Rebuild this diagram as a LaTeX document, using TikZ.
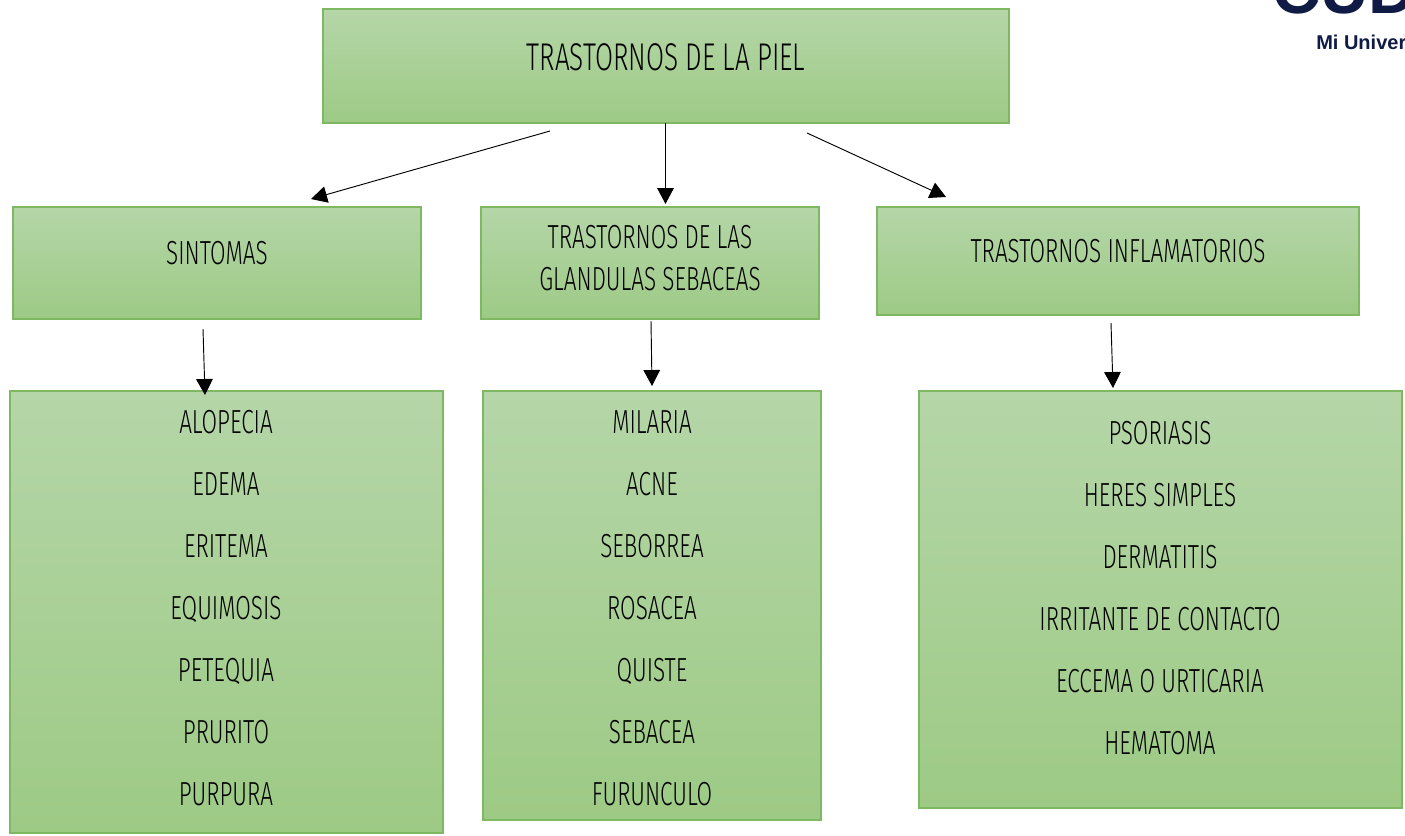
\documentclass[tikz,border=0pt]{standalone}
\usepackage{fontspec}
\usetikzlibrary{arrows.meta}
\newfontfamily\agency[FakeStretch=0.675]{Fira Sans Light}
\newfontfamily\logofont{Liberation Sans}
\definecolor{gtop}{HTML}{B5D6A8}
\definecolor{gbot}{HTML}{9DCA85}
\definecolor{gline}{HTML}{7FB863}
\definecolor{navy}{HTML}{0F1B45}
\tikzset{
 x=0.75pt,y=-0.75pt,
 gbox/.style={draw=gline,line width=1.3pt,top color=gtop,bottom color=gbot,shading angle=0},
 lbl/.style={font=\agency\fontsize{25}{31}\selectfont,text=black,align=center,inner sep=0pt},
 item/.style={lbl,text height=18pt,text depth=0pt,yshift=0.75pt},
 biglbl/.style={font=\agency\fontsize{29}{34}\selectfont,text=black,align=center,inner sep=0pt},
 arr/.style={draw=black,line width=0.7pt,-{Triangle[length=12pt,width=12.5pt]}},
}
\begin{document}
\begin{tikzpicture}
\useasboundingbox (0,0) rectangle (1405,835);
\clip (0,0) rectangle (1405,835);
% logo
\node[anchor=base west,inner sep=0pt,text=navy,font=\logofont\bfseries\fontsize{50}{50}\selectfont] (logo) at (1272,13) {CUD};
\node[anchor=base west,inner sep=0pt,text=navy,font=\logofont\bfseries\fontsize{15}{15}\selectfont] (logotext) at (1316,49) {Mi Univer};
% boxes
\path[gbox] (323,9) rectangle (1009,123);
\node[biglbl] (top) at (666,57) {TRASTORNOS DE LA PIEL};
\coordinate (topS) at (665.5,123);
\path[gbox] (13,207) rectangle (421,319);
\node[item] (sin) at (217,253) {SINTOMAS};
\path[gbox] (481,207) rectangle (819,319);
\node[lbl] (gla) at (650,258) {TRASTORNOS DE LAS\\GLANDULAS SEBACEAS};
\path[gbox] (877,207) rectangle (1359,315);
\node[item] (inf) at (1118,251) {TRASTORNOS INFLAMATORIOS};
\path[gbox] (10,391) rectangle (443,833);
\path[gbox] (483,391) rectangle (821,820);
\path[gbox] (919,391) rectangle (1402,808);
% list 1
\node[item] (a1) at (226,422) {ALOPECIA};
\node[item] (a2) at (226,484) {EDEMA};
\node[item] (a3) at (226,546) {ERITEMA};
\node[item] (a4) at (226,608) {EQUIMOSIS};
\node[item] (a5) at (226,670) {PETEQUIA};
\node[item] (a6) at (226,732) {PRURITO};
\node[item] (a7) at (226,794) {PURPURA};
% list 2
\node[item] (b1) at (652,422) {MILARIA};
\node[item] (b2) at (652,484) {ACNE};
\node[item] (b3) at (652,546) {SEBORREA};
\node[item] (b4) at (652,608) {ROSACEA};
\node[item] (b5) at (652,670) {QUISTE};
\node[item] (b6) at (652,732) {SEBACEA};
\node[item] (b7) at (652,794) {FURUNCULO};
% list 3
\node[item] (c1) at (1160,433) {PSORIASIS};
\node[item] (c2) at (1160,495) {HERES SIMPLES};
\node[item] (c3) at (1160,557) {DERMATITIS};
\node[item] (c4) at (1160,619) {IRRITANTE DE CONTACTO};
\node[item] (c5) at (1160,681) {ECCEMA O URTICARIA};
\node[item] (c6) at (1160,743) {HEMATOMA};
% connector ends
\coordinate (s1) at (550,131); \coordinate (e1) at (311,199);
\coordinate (e2) at (665.5,204);
\coordinate (s3) at (807,133); \coordinate (e3) at (946,197);
\coordinate (s4) at (203,329); \coordinate (e4) at (205,395);
\coordinate (s5) at (651,321); \coordinate (e5) at (652,386);
\coordinate (s6) at (1111,323); \coordinate (e6) at (1113,388);
\draw[arr] (s1) -- (e1);
\draw[arr] (topS) -- (e2);
\draw[arr] (s3) -- (e3);
\draw[arr] (s4) -- (e4);
\draw[arr] (s5) -- (e5);
\draw[arr] (s6) -- (e6);
\end{tikzpicture}
\end{document}
